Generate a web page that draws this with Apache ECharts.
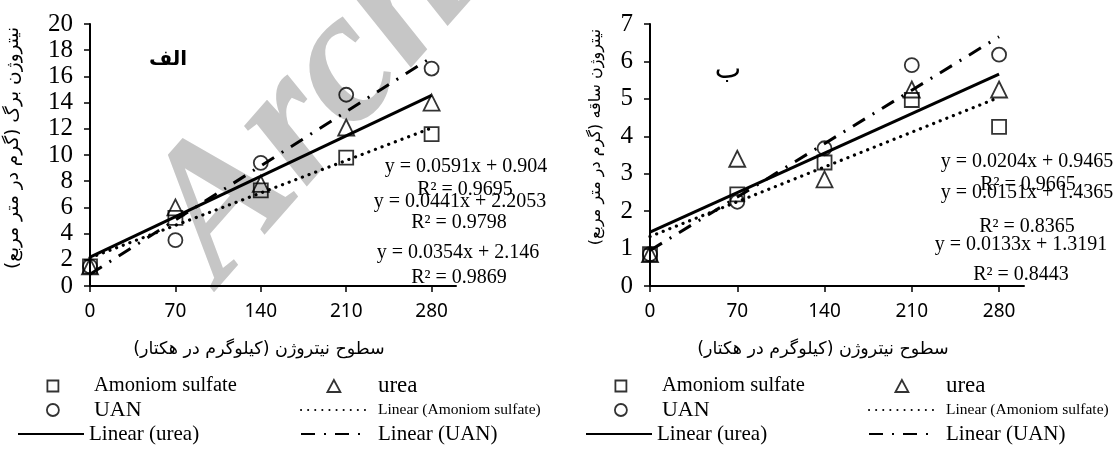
<!DOCTYPE html>
<html><head><meta charset="utf-8">
<script src="https://cdn.jsdelivr.net/npm/echarts@6/dist/echarts.min.js"></script>
<style>html,body{margin:0;padding:0;background:#fff}#c{width:1120px;height:450px}</style>
</head><body><div id="c"></div>
<script>
// ---- data ----
const nLevels = [0, 70, 140, 210, 280];          // kg/ha
const xTickValues = [0, 70, 140, 210, 280];
const trendX = [0, 280];

// Panel الف : leaf nitrogen
const leafAS   = [1.5, 5.2, 7.3, 9.8, 11.6];
const leafUrea = [1.5, 6.0, 7.8, 12.1, 14.0];
const leafUAN  = [1.5, 3.5, 9.4, 14.6, 16.6];
const leafTrendAS   = [2.15, 12.06];
const leafTrendUrea = [2.21, 14.55];
const leafTrendUAN  = [0.90, 17.45];
const leafEquations = ['y = 0.0591x + 0.904', 'R² = 0.9695', 'y = 0.0441x + 2.2053', 'R² = 0.9798', 'y = 0.0354x + 2.146', 'R² = 0.9869'];

// Panel ب : stem nitrogen
const stemAS   = [0.85, 2.45, 3.3, 4.97, 4.25];
const stemUrea = [0.85, 3.4, 2.85, 5.25, 5.25];
const stemUAN  = [0.85, 2.25, 3.68, 5.9, 6.18];
const stemTrendAS   = [1.32, 5.04];
const stemTrendUrea = [1.44, 5.66];
const stemTrendUAN  = [0.95, 6.66];
const stemEquations = ['y = 0.0204x + 0.9465', 'R² = 0.9665', 'y = 0.0151x + 1.4365', 'R² = 0.8365', 'y = 0.0133x + 1.3191', 'R² = 0.8443'];

const seriesNames = ['Amoniom sulfate', 'urea', 'UAN', 'Linear (Amoniom sulfate)', 'Linear (urea)', 'Linear (UAN)'];
const xTitle = 'سطوح نیتروژن (کیلوگرم در هکتار)';
const yTitleLeaf = 'نیتروژن برگ (گرم در متر مربع)';
const yTitleStem = 'نیتروژن ساقه (گرم در متر مربع)';
const panelLabels = ['الف', 'ب'];

// ---- helpers ----
const pairs = (xs, ys) => xs.map((x, i) => [x, ys[i]]);
const SERIF = '"Liberation Serif", "Times New Roman", serif';
const markerStyle = { color: 'rgba(0,0,0,0)', borderColor: '#000', borderWidth: 1.8 };
const symbols = ['rect', 'triangle', 'circle'];
const symSizes = [14, 16, 14];
const lineTypes = [[0.1, 7], 'solid', [14, 9, 2, 9]];

function panelSeries(idx, pts, trends) {
  const out = [];
  pts.forEach((p, i) => out.push({
    type: 'scatter', name: seriesNames[i], xAxisIndex: idx, yAxisIndex: idx,
    data: pairs(nLevels, p), symbol: symbols[i], symbolSize: symSizes[i],
    itemStyle: markerStyle, z: 4, silent: true
  }));
  trends.forEach((t, i) => out.push({
    type: 'line', name: seriesNames[3 + i], xAxisIndex: idx, yAxisIndex: idx,
    data: pairs(trendX, t), symbol: 'none', showSymbol: false, silent: true, z: 3,
    itemStyle: { color: '#000' },
    lineStyle: { color: '#000', width: i === 0 ? 3.2 : 3, type: lineTypes[i], cap: i === 0 ? 'round' : 'butt' }
  }));
  return out;
}

function xAxisCfg(idx) {
  return {
    type: 'value', gridIndex: idx, min: 0, max: 300, interval: 70,
    name: xTitle, nameLocation: 'middle', nameGap: 54,
    nameTextStyle: { fontFamily: 'DejaVu Sans', fontSize: 17.5, color: '#000', padding: [0, 28, 0, 0] },
    axisLine: { lineStyle: { color: '#000', width: 2 } },
    axisTick: { show: true, length: 6, inside: false, customValues: xTickValues, lineStyle: { color: '#000', width: 1.5 } },
    axisLabel: { customValues: xTickValues, fontFamily: '"Noto Sans", sans-serif', fontSize: 19, color: '#000', margin: 16 },
    splitLine: { show: false }
  };
}
function yAxisCfg(idx, max, interval, title, gap, fs, shift) {
  return {
    type: 'value', gridIndex: idx, min: 0, max: max, interval: interval,
    name: title, nameLocation: 'middle', nameGap: gap,
    nameTextStyle: { fontFamily: 'DejaVu Sans', fontSize: fs, color: '#000', padding: [0, 0, 0, shift] },
    axisLine: { show: true, lineStyle: { color: '#000', width: 2 } },
    axisTick: { show: true, length: 6, lineStyle: { color: '#000', width: 1.5 } },
    axisLabel: { fontFamily: SERIF, fontSize: 25, color: '#000', margin: 17 },
    splitLine: { show: false }
  };
}

// legend layout (one legend per entry)
const hidden = { color: 'rgba(0,0,0,0)', borderWidth: 0, opacity: 0 };
const outline = { color: 'rgba(0,0,0,0)', borderColor: '#000', borderWidth: 1.8 };
function legends(off) {
  const rows = [386, 410, 434];
  const L = [];
  const mk = (name, left, row, w, h, fs, icon, pad) => L.push({
    show: true, selectedMode: false, left: left + off, top: rows[row] - 12, padding: 0,
    itemWidth: w, itemHeight: h, itemGap: 0, symbolKeepAspect: true,
    textStyle: { fontFamily: SERIF, fontSize: fs, color: '#000', lineHeight: 24, padding: [0, 0, 0, pad || 0] },
    data: [icon ? { name: name, icon: icon, itemStyle: outline } : { name: name, itemStyle: hidden }]
  });
  mk(seriesNames[0], 46.5, 0, 11, 11, 20.5, 'rect', 30.5);
  mk(seriesNames[1], 326.5, 0, 13, 12, 23, 'triangle', 32.5);
  mk(seriesNames[2], 46, 1, 12, 12, 22, 'circle', 30);
  mk(seriesNames[3], 300, 1, 65, 14, 15.5, null, 7);
  mk(seriesNames[4], 17, 2, 66, 14, 21, null, 0);
  mk(seriesNames[5], 300, 2, 65, 14, 21, null, 7);
  return L;
}

function eqGraphics(lines, cx, ys) {
  return lines.map((t, i) => ({
    type: 'text', x: cx[i], y: ys[i], z: 10,
    style: { text: t, fontFamily: SERIF, fontSize: 20, fill: '#000', align: 'center', verticalAlign: 'middle' }
  }));
}

const chart = echarts.init(document.getElementById('c'), null, { renderer: 'canvas' });
chart.setOption({
  animation: false,
  backgroundColor: '#fff',
  grid: [
    { left: 90, top: 24, width: 366, height: 262 },
    { left: 650, top: 24, width: 374, height: 262 }
  ],
  xAxis: [xAxisCfg(0), xAxisCfg(1)],
  yAxis: [yAxisCfg(0, 20, 2, yTitleLeaf, 67, 18.5, 14), yAxisCfg(1, 7, 1, yTitleStem, 46, 16, 36)],
  legend: legends(0).concat(legends(568)),
  series: panelSeries(0, [leafAS, leafUrea, leafUAN], [leafTrendAS, leafTrendUrea, leafTrendUAN])
    .concat(panelSeries(1, [stemAS, stemUrea, stemUAN], [stemTrendAS, stemTrendUrea, stemTrendUAN])),
  graphic: [
    { type: 'text', x: 255, y: 315, rotation: 0.85, z: -10, silent: true,
      style: { text: 'Archive', font: 'italic bold 190px "Liberation Serif"', fill: '#c6c6c6', verticalAlign: 'bottom', align: 'left' } },
    { type: 'text', x: 168, y: 60, z: 10, style: { text: panelLabels[0], fontFamily: 'DejaVu Sans', fontWeight: 'bold', fontSize: 20, fill: '#000', align: 'center', verticalAlign: 'middle' } },
    { type: 'text', x: 728, y: 71, z: 10, style: { text: panelLabels[1], fontFamily: 'DejaVu Sans', fontSize: 28, fill: '#000', align: 'center', verticalAlign: 'middle' } }
  ].concat(eqGraphics(leafEquations, [466, 465, 460, 459, 458, 459], [167, 190, 202, 223, 253, 278]))
   .concat(eqGraphics(stemEquations, [1027, 1028, 1027, 1027, 1021, 1021], [162, 185, 193, 227, 245, 275]))
});
</script>
</body></html>
